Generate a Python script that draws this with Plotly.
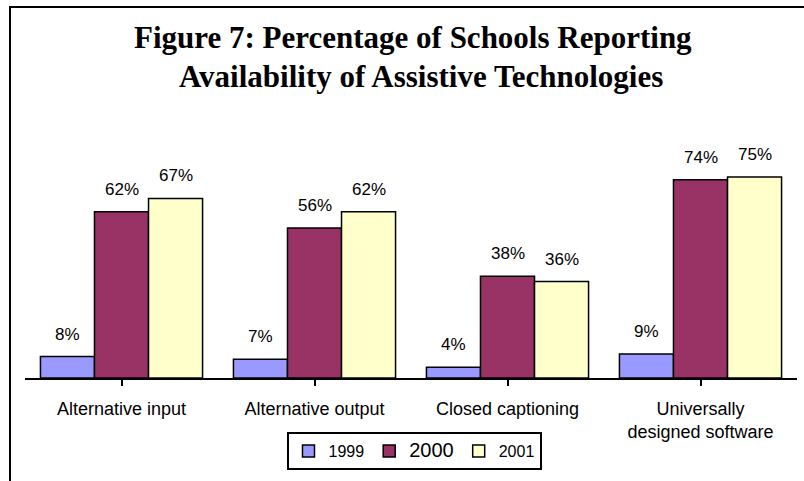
import plotly.graph_objects as go

categories = ["Alternative input", "Alternative output", "Closed captioning",
              "Universally<br>designed software"]
years = ["1999", "2000", "2001"]
v1999 = [8, 7, 4, 9]
v2000 = [62, 56, 38, 74]
v2001 = [67, 62, 36, 75]
series = [v1999, v2000, v2001]
colors = ["#9999FF", "#993366", "#FFFFCC"]
legend_names = ["1999", "<span style='font-size:20px'>2000</span>", "2001"]
title_lines = ["Figure 7: Percentage of Schools Reporting",
               "Availability of Assistive Technologies"]

W, H = 804, 481
L, R, T, B = 25, 7, 110, 103
plot_w = W - L - R
plot_h = H - T - B
bargap = 0.16
bw = (1 - bargap) / 3


def px_x(px):
    return (px - L) / plot_w


def px_y(py):
    return (H - B - py) / plot_h


fig = go.Figure()
for name, vals, col in zip(legend_names, series, colors):
    fig.add_trace(go.Bar(
        x=list(range(len(categories))), y=vals, name=name,
        marker=dict(color=col, line=dict(color="black", width=1.5)),
    ))

annotations = []
for j, vals in enumerate(series):
    for i, v in enumerate(vals):
        annotations.append(dict(
            x=i + (j - 1) * bw, y=v, xref="x", yref="y",
            text=f"{v}%", showarrow=False, yanchor="bottom", yshift=11,
            font=dict(family="Liberation Sans, Arial", size=17, color="black"),
        ))

title_pos = [(413, 37), (421, 76)]
for txt, (cx, cy) in zip(title_lines, title_pos):
    annotations.append(dict(
        x=px_x(cx), y=px_y(cy), xref="paper", yref="paper",
        xanchor="center", yanchor="middle", showarrow=False, text=f"<b>{txt}</b>",
        font=dict(family="Liberation Serif, Times New Roman", size=31, color="black"),
    ))

shapes = [
    dict(type="line", xref="paper", yref="paper",
         x0=px_x(10), x1=px_x(10), y0=px_y(7), y1=px_y(490),
         line=dict(color="black", width=2)),
    dict(type="line", xref="paper", yref="paper",
         x0=px_x(9), x1=px_x(812), y0=px_y(7), y1=px_y(7),
         line=dict(color="black", width=2)),
]

fig.update_layout(
    width=W, height=H,
    margin=dict(l=L, r=R, t=T, b=B),
    paper_bgcolor="white", plot_bgcolor="white",
    barmode="group", bargap=bargap, bargroupgap=0,
    xaxis=dict(
        tickmode="array", tickvals=list(range(len(categories))), ticktext=categories,
        tickson="boundaries", ticks="outside", ticklen=6, tickwidth=2, tickcolor="black",
        showline=True, linecolor="black", linewidth=2, showgrid=False, zeroline=False,
        range=[-0.5, len(categories) - 0.5],
        tickfont=dict(family="Liberation Sans, Arial", size=18, color="black"),
        ticklabelstandoff=7,
    ),
    yaxis=dict(range=[0, 100], visible=False, showgrid=False, zeroline=False),
    showlegend=True,
    legend=dict(
        orientation="h", x=px_x(414), xanchor="center", y=px_y(451), yanchor="middle",
        bordercolor="black", borderwidth=2, bgcolor="white",
        font=dict(family="Liberation Sans, Arial", size=16, color="black"),
        traceorder="normal",
    ),
    annotations=annotations,
    shapes=shapes,
)

fig.write_html("out.html")
